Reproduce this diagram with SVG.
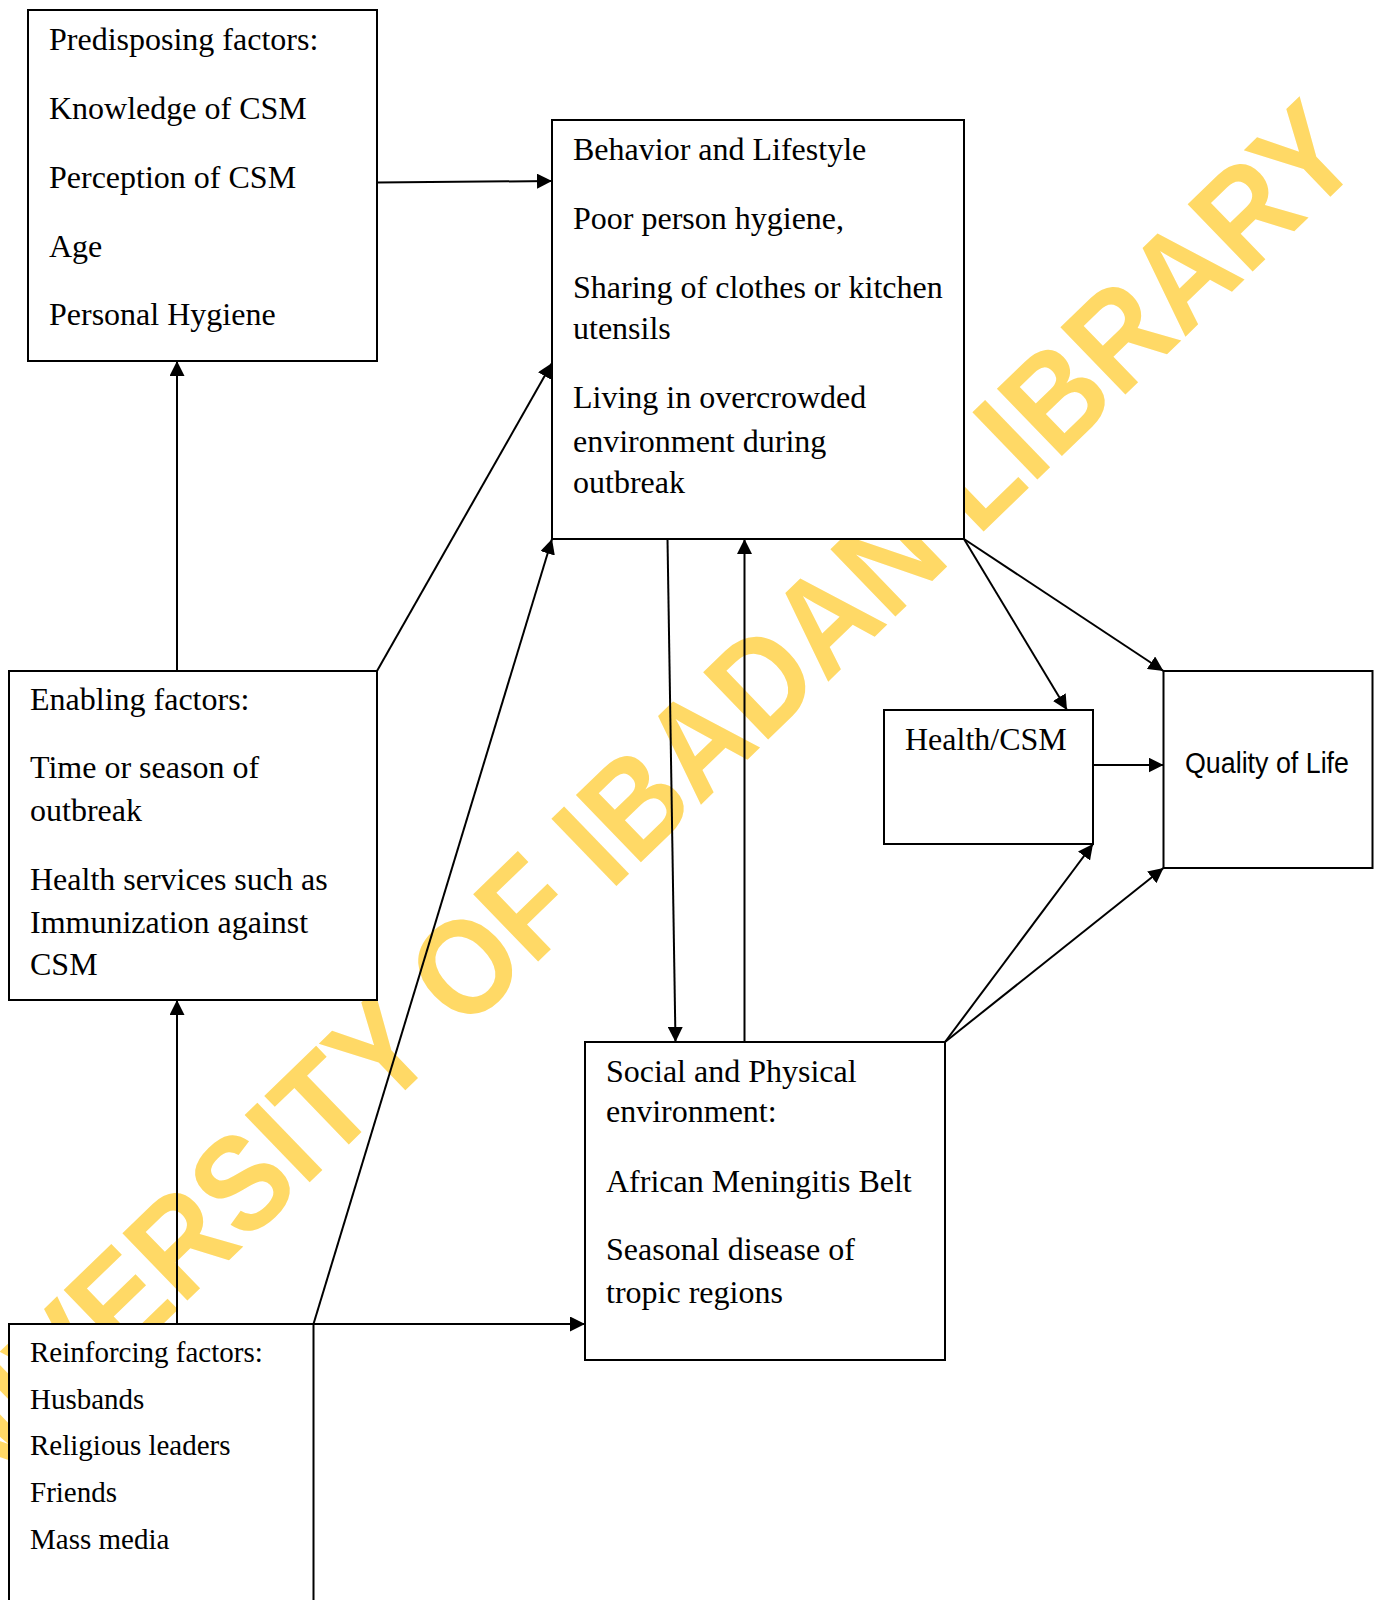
<svg xmlns="http://www.w3.org/2000/svg" width="1379" height="1600" viewBox="0 0 1379 1600">
<style>
.box{fill:#fff;stroke:#000;stroke-width:2}
.t{font-family:"Liberation Serif","Times New Roman",serif;font-size:32px;fill:#000}
.ts{font-family:"Liberation Serif","Times New Roman",serif;font-size:29px;fill:#000}
.tq{font-family:"Liberation Sans",Arial,sans-serif;font-size:30px;fill:#000}
.wm{font-family:"Liberation Sans",Arial,sans-serif;font-size:136px;font-weight:bold;fill:#FFD966}
.c{stroke:#000;stroke-width:2;fill:none;marker-end:url(#ah)}
</style>
<defs>
<marker id="ah" markerUnits="userSpaceOnUse" markerWidth="15" markerHeight="15" refX="15" refY="7.5" orient="auto">
<path d="M0,0 L15,7.5 L0,15 z" fill="#000"/>
</marker>
</defs>
<rect width="1379" height="1600" fill="#fff"/>
<g id="watermark">
<text class="wm" x="1366" y="162.3" text-anchor="end" transform="rotate(-44 1366 162.3)" textLength="2021" lengthAdjust="spacingAndGlyphs">UNIVERSITY OF IBADAN LIBRARY</text>
</g>
<g id="predisposing">
<rect class="box" x="28" y="10" width="349" height="351"/>
<text class="t" x="49" y="50">Predisposing factors:</text>
<text class="t" x="49" y="118.5">Knowledge of CSM</text>
<text class="t" x="49" y="188">Perception of CSM</text>
<text class="t" x="49" y="256.5">Age</text>
<text class="t" x="49" y="325">Personal Hygiene</text>
</g>
<g id="behavior">
<rect class="box" x="552" y="120" width="412" height="419"/>
<text class="t" x="573" y="160">Behavior and Lifestyle</text>
<text class="t" x="573" y="228.5">Poor person hygiene,</text>
<text class="t" x="573" y="298">Sharing of clothes or kitchen</text>
<text class="t" x="573" y="339">utensils</text>
<text class="t" x="573" y="408">Living in overcrowded</text>
<text class="t" x="573" y="451.5">environment during</text>
<text class="t" x="573" y="493">outbreak</text>
</g>
<g id="enabling">
<rect class="box" x="9" y="671" width="368" height="329"/>
<text class="t" x="30" y="710">Enabling factors:</text>
<text class="t" x="30" y="778">Time or season of</text>
<text class="t" x="30" y="820.5">outbreak</text>
<text class="t" x="30" y="890">Health services such as</text>
<text class="t" x="30" y="933">Immunization against</text>
<text class="t" x="30" y="975">CSM</text>
</g>
<g id="health">
<rect class="box" x="884" y="710" width="209" height="134"/>
<text class="t" x="905" y="750">Health/CSM</text>
</g>
<g id="quality">
<rect class="box" x="1163.5" y="671" width="209" height="197"/>
<text class="tq" x="1185" y="773" textLength="164" lengthAdjust="spacingAndGlyphs">Quality of Life</text>
</g>
<g id="social">
<rect class="box" x="585" y="1042" width="360" height="318"/>
<text class="t" x="606" y="1081.5">Social and Physical</text>
<text class="t" x="606" y="1121.5">environment:</text>
<text class="t" x="606" y="1191.5">African Meningitis Belt</text>
<text class="t" x="606" y="1260">Seasonal disease of</text>
<text class="t" x="606" y="1303">tropic regions</text>
</g>
<g id="reinforcing">
<rect class="box" x="9" y="1324" width="304.5" height="300"/>
<text class="ts" x="30" y="1362">Reinforcing factors:</text>
<text class="ts" x="30" y="1408.5">Husbands</text>
<text class="ts" x="30" y="1455">Religious leaders</text>
<text class="ts" x="30" y="1502">Friends</text>
<text class="ts" x="30" y="1549">Mass media</text>
</g>
<g id="connectors">
<line class="c" x1="377" y1="182.5" x2="552" y2="181"/>
<line class="c" x1="177" y1="671" x2="177" y2="361"/>
<line class="c" x1="377" y1="671" x2="552" y2="363"/>
<line class="c" x1="177" y1="1324" x2="177" y2="1000"/>
<line class="c" x1="313.5" y1="1324" x2="552" y2="539"/>
<line class="c" x1="313.5" y1="1324" x2="585" y2="1324"/>
<line class="c" x1="667.5" y1="539" x2="675.5" y2="1042"/>
<line class="c" x1="744.5" y1="1042" x2="744.5" y2="539"/>
<line class="c" x1="964" y1="539" x2="1067" y2="710"/>
<line class="c" x1="964" y1="539" x2="1163.5" y2="671"/>
<line class="c" x1="1093" y1="765" x2="1163.5" y2="765"/>
<line class="c" x1="945" y1="1042" x2="1093" y2="844"/>
<line class="c" x1="945" y1="1042" x2="1163.5" y2="868"/>
</g>
</svg>
